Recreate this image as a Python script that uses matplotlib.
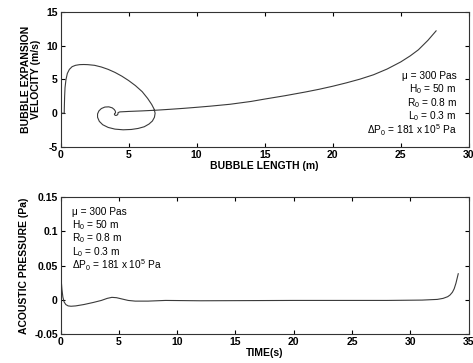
import matplotlib
matplotlib.use("Agg")
import matplotlib.pyplot as plt
import numpy as np

plt.rcParams["font.family"] = ["Liberation Sans", "DejaVu Sans"]
plt.rcParams["mathtext.fontset"] = "custom"
plt.rcParams["mathtext.rm"] = "Liberation Sans"
plt.rcParams["mathtext.default"] = "regular"

# phase plot: bubble length (m) vs expansion velocity (m/s)
length = [0.0, 0.27, 0.28, 0.30, 0.33, 0.40, 0.50, 0.65, 0.85, 1.1, 1.4, 1.7,
          2.0, 2.5, 3.0, 3.5, 4.0, 4.5, 5.0, 5.5, 6.0, 6.4, 6.7, 6.88,
          6.95, 6.9, 6.75, 6.5, 6.15, 5.7, 5.2, 4.6, 4.0, 3.5, 3.1, 2.85,
          2.72, 2.72, 2.82, 3.0, 3.26, 3.55, 3.8, 3.95, 4.03, 4.04, 3.97, 3.96,
          4.03, 4.14, 4.22, 4.22, 4.35, 5.0, 6.0, 7.0, 8.0, 9.0, 10.0, 11.0,
          12.45, 14.0, 15.0, 16.5, 18.0, 19.0, 20.0, 21.0, 22.0, 23.0, 24.0, 25.0,
          25.7, 26.3, 27.0, 27.6]
velocity = [0.0, 0.0, 1.0, 2.5, 3.8, 5.0, 5.9, 6.5, 6.9, 7.1, 7.2, 7.22,
            7.2, 7.1, 6.85, 6.5, 6.05, 5.5, 4.85, 4.1, 3.2, 2.2, 1.3, 0.6,
            0.0, -0.6, -1.15, -1.6, -2.0, -2.25, -2.4, -2.45, -2.35, -2.1, -1.7, -1.2,
            -0.6, -0.1, 0.35, 0.7, 0.92, 0.95, 0.8, 0.55, 0.3, 0.05, -0.05, -0.2,
            -0.32, -0.3, -0.12, 0.08, 0.2, 0.27, 0.35, 0.45, 0.58, 0.72, 0.88, 1.05,
            1.33, 1.75, 2.1, 2.6, 3.15, 3.55, 4.0, 4.5, 5.05, 5.7, 6.55, 7.6,
            8.5, 9.4, 10.8, 12.2]

# acoustic pressure (Pa) vs time (s)
time = [0.0, 0.05, 0.12, 0.2, 0.3, 0.45, 0.65, 0.9, 1.3, 2.0, 2.8, 3.5,
        4.0, 4.4, 4.8, 5.3, 5.8, 6.4, 7.5, 9.0, 12.0, 20.0, 28.0, 31.0,
        32.3, 32.8, 33.2, 33.4, 33.6, 33.75, 33.9, 34.0, 34.1]
pressure = [0.045, 0.03, 0.015, 0.004, -0.003, -0.007, -0.009, -0.0095, -0.009, -0.007, -0.004, -0.001,
            0.002, 0.0035, 0.003, 0.001, -0.001, -0.002, -0.002, -0.001, -0.0015, -0.001, -0.001, -0.0005,
            0.0005, 0.002, 0.0045, 0.007, 0.011, 0.016, 0.024, 0.031, 0.038]

params = ["\u03bc = 300 Pas", "H$_0$ = 50 m", "R$_0$ = 0.8 m",
          "L$_0$ = 0.3 m", "\u0394P$_0$ = 181 x 10$^5$ Pa"]
top_rows = [0.503, 0.403, 0.303, 0.203, 0.098]
bottom_rows = [0.872, 0.774, 0.676, 0.578, 0.472]

line_color = "#3a3a3a"
tick_font = dict(fontsize=7.5, fontweight="bold")

fig = plt.figure(figsize=(4.73, 3.63), dpi=100)
ax1 = fig.add_axes([0.128, 0.595, 0.863, 0.372])
ax2 = fig.add_axes([0.128, 0.080, 0.863, 0.377])

ax1.plot(length, velocity, color=line_color, lw=0.8)
ax1.set_xlim(0, 30)
ax1.set_ylim(-5, 15)
ax1.set_xticks(np.arange(0, 31, 5))
ax1.set_yticks(np.arange(-5, 16, 5))
ax1.set_xticklabels([str(v) for v in range(0, 31, 5)], **tick_font)
ax1.set_yticklabels([str(v) for v in range(-5, 16, 5)], **tick_font)
ax1.set_xlabel("BUBBLE LENGTH (m)", fontsize=7.5, fontweight="bold", labelpad=1)
ax1.set_ylabel("BUBBLE EXPANSION\nVELOCITY (m/s)", fontsize=7.5, fontweight="bold",
               labelpad=4, linespacing=1.0)
for txt, yy in zip(params, top_rows):
    ax1.text(0.97, yy, txt, transform=ax1.transAxes, ha="right", va="baseline",
             fontsize=7.3)

ax2.plot(time, pressure, color=line_color, lw=0.8)
ax2.set_xlim(0, 35)
ax2.set_ylim(-0.05, 0.15)
ax2.set_xticks(np.arange(0, 36, 5))
ax2.set_yticks([-0.05, 0, 0.05, 0.1, 0.15])
ax2.set_xticklabels([str(v) for v in range(0, 36, 5)], **tick_font)
ax2.set_yticklabels(["-0.05", "0", "0.05", "0.1", "0.15"], **tick_font)
ax2.set_xlabel("TIME(s)", fontsize=7.5, fontweight="bold", labelpad=1)
ax2.set_ylabel("ACOUSTIC PRESSURE (Pa)", fontsize=7.5, fontweight="bold", labelpad=4)
for txt, yy in zip(params, bottom_rows):
    ax2.text(0.029, yy, txt, transform=ax2.transAxes, ha="left", va="baseline",
             fontsize=7.3)

for ax in (ax1, ax2):
    ax.tick_params(direction="in", length=3, width=0.8, top=True, right=True, pad=2)
    for sp in ax.spines.values():
        sp.set_linewidth(0.8)
        sp.set_color("#333333")

fig.savefig("out.png", dpi=100)
